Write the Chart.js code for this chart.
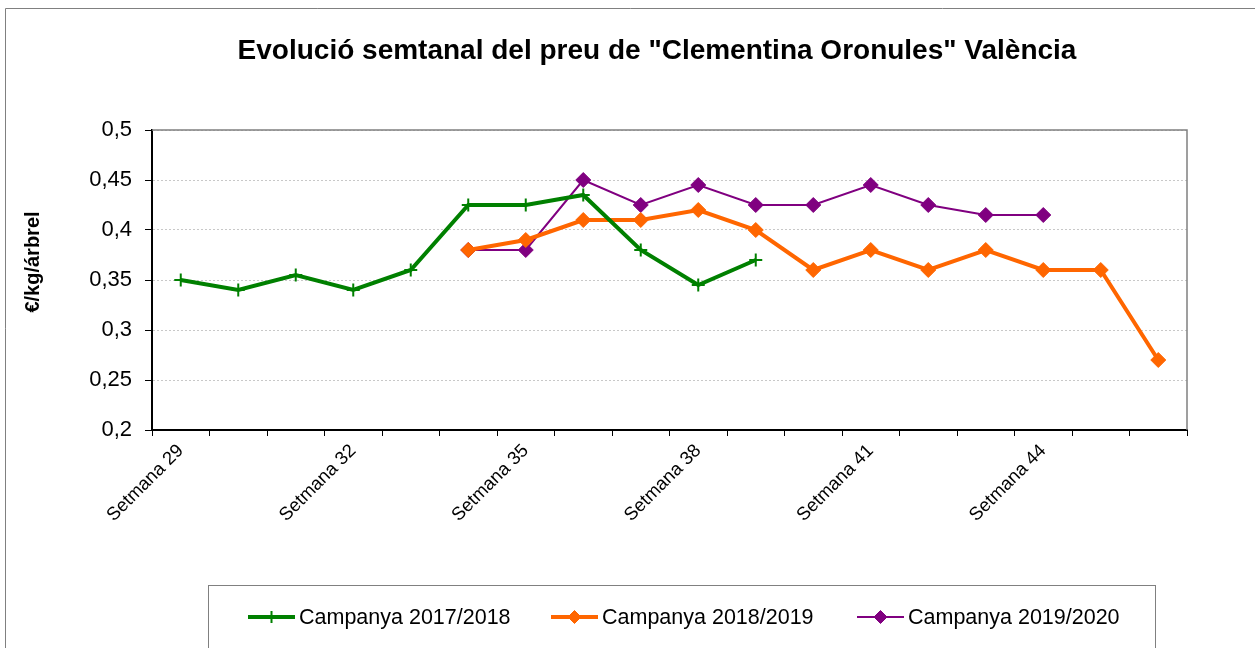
<!DOCTYPE html>
<html>
<head>
<meta charset="utf-8">
<title>Clementina Oronules</title>
<script src="https://cdn.jsdelivr.net/npm/chart.js@4.4.1/dist/chart.umd.min.js"></script>
<style>
  html, body { margin: 0; padding: 0; background: #fff; }
  canvas { display: block; }
</style>
</head>
<body>
<canvas id="priceChart" width="1255" height="648"></canvas>
<script>
const chartTitle = 'Evolució semtanal del preu de "Clementina Oronules" València';
const yAxisTitle = '€/kg/árbrel';

// Setmana 29 ... Setmana 46
const weeks = ['Setmana 29', 'Setmana 30', 'Setmana 31', 'Setmana 32', 'Setmana 33', 'Setmana 34',
  'Setmana 35', 'Setmana 36', 'Setmana 37', 'Setmana 38', 'Setmana 39', 'Setmana 40',
  'Setmana 41', 'Setmana 42', 'Setmana 43', 'Setmana 44', 'Setmana 45', 'Setmana 46'];

const campanya1718 = [0.35, 0.34, 0.355, 0.34, 0.36, 0.425, 0.425, 0.435, 0.38, 0.345, 0.37,
  null, null, null, null, null, null, null];
const campanya1819 = [null, null, null, null, null, 0.38, 0.39, 0.41, 0.41, 0.42, 0.40,
  0.36, 0.38, 0.36, 0.38, 0.36, 0.36, 0.27];
const campanya1920 = [null, null, null, null, null, 0.38, 0.38, 0.45, 0.425, 0.445, 0.425,
  0.425, 0.445, 0.425, 0.415, 0.415, null, null];

const yTicks = [0.2, 0.25, 0.3, 0.35, 0.4, 0.45, 0.5];

const FONT = '"Liberation Sans", Arial, sans-serif';

// title, y title, frames and the boxed legend are drawn by hand
const decorPlugin = {
  id: 'decor',
  beforeDatasetsDraw(chart) {
    const { ctx, chartArea: a } = chart;
    ctx.save();
    ctx.strokeStyle = '#808080';
    ctx.lineWidth = 1.5;
    ctx.beginPath();
    ctx.moveTo(a.left, a.top);
    ctx.lineTo(a.right, a.top);
    ctx.lineTo(a.right, a.bottom);
    ctx.stroke();
    ctx.restore();
  },
  afterDraw(chart) {
    const ctx = chart.ctx;
    ctx.save();
    // outer border
    ctx.strokeStyle = '#808080';
    ctx.lineWidth = 1;
    ctx.beginPath();
    ctx.moveTo(5.5, 648);
    ctx.lineTo(5.5, 8.5);
    ctx.lineTo(1255, 8.5);
    ctx.stroke();

    // title
    ctx.fillStyle = '#000';
    ctx.font = 'bold 28px ' + FONT;
    ctx.textAlign = 'center';
    ctx.textBaseline = 'middle';
    ctx.fillText(chartTitle, 657, 51);

    // y axis title
    ctx.save();
    ctx.translate(33, 262);
    ctx.rotate(-Math.PI / 2);
    ctx.font = 'bold 20px ' + FONT;
    ctx.fillText(yAxisTitle, 0, 0);
    ctx.restore();

    // legend box
    ctx.strokeStyle = '#808080';
    ctx.lineWidth = 1;
    ctx.strokeRect(208.5, 585.5, 947, 100);

    const starts = [248, 551, 857];
    const ly = 617;
    ctx.font = '21.5px ' + FONT;
    ctx.textAlign = 'left';
    chart.data.datasets.forEach((ds, i) => {
      const x0 = starts[i];
      ctx.strokeStyle = ds.borderColor;
      ctx.lineWidth = ds.borderWidth;
      ctx.beginPath();
      ctx.moveTo(x0, ly);
      ctx.lineTo(x0 + 47, ly);
      ctx.stroke();
      ctx.fillStyle = ds.pointBackgroundColor;
      ctx.strokeStyle = ds.pointBorderColor;
      ctx.lineWidth = ds.pointBorderWidth;
      Chart.helpers.drawPoint(ctx, {
        pointStyle: ds.pointStyle,
        radius: ds.pointStyle === 'cross' ? 6 : 6.5,
        borderWidth: ds.pointBorderWidth,
        rotation: 0
      }, x0 + 23.5, ly);
      ctx.fillStyle = '#000';
      ctx.fillText(ds.label, x0 + 51, ly + 1);
    });
    ctx.restore();
  }
};

const ctx = document.getElementById('priceChart').getContext('2d');

const priceChart = new Chart(ctx, {
  type: 'line',
  data: {
    labels: weeks,
    datasets: [{
      label: 'Campanya 2017/2018',
      data: campanya1718,
      borderColor: '#008000',
      backgroundColor: '#008000',
      borderWidth: 4,
      pointStyle: 'cross',
      pointRadius: 6.5,
      pointBorderWidth: 2,
      pointBackgroundColor: '#008000',
      pointBorderColor: '#008000',
      tension: 0
    }, {
      label: 'Campanya 2018/2019',
      data: campanya1819,
      borderColor: '#FF6600',
      backgroundColor: '#FF6600',
      borderWidth: 4,
      pointStyle: 'rectRot',
      pointRadius: 7.5,
      pointBorderWidth: 1,
      pointBackgroundColor: '#FF6600',
      pointBorderColor: '#FF6600',
      tension: 0
    }, {
      label: 'Campanya 2019/2020',
      data: campanya1920,
      borderColor: '#800080',
      backgroundColor: '#800080',
      borderWidth: 2,
      pointStyle: 'rectRot',
      pointRadius: 7.5,
      pointBorderWidth: 1,
      pointBackgroundColor: '#800080',
      pointBorderColor: '#800080',
      tension: 0
    }]
  },
  options: {
    responsive: false,
    animation: false,
    layout: { padding: { left: 5, right: 68, top: 130, bottom: 0 } },
    plugins: {
      legend: { display: false },
      title: { display: false },
      tooltip: { enabled: false }
    },
    scales: {
      x: {
        offset: true,
        afterFit(scale) { scale.height = 218; },
        grid: {
          offset: true,
          drawOnChartArea: false,
          drawTicks: true,
          tickLength: 6,
          color: '#000'
        },
        border: { color: '#000', width: 2 },
        ticks: {
          autoSkip: false,
          minRotation: 45,
          maxRotation: 45,
          padding: 4,
          color: '#000',
          font: { family: FONT, size: 18.5 },
          callback(value, index) {
            return index % 3 === 0 ? weeks[index] : '';
          }
        }
      },
      y: {
        min: 0.2,
        max: 0.5,
        afterFit(scale) { scale.width = 147; },
        afterBuildTicks(scale) {
          scale.ticks = yTicks.map(v => ({ value: v }));
        },
        grid: {
          color: '#c8c8c8',
          tickColor: '#000',
          tickLength: 7,
          lineWidth: 1
        },
        border: { color: '#000', width: 2, dash: [2, 2] },
        ticks: {
          padding: 13,
          color: '#000',
          font: { family: FONT, size: 22 },
          callback(value) {
            return String(Math.round(value * 100) / 100).replace('.', ',');
          }
        },
        title: { display: false }
      }
    }
  },
  plugins: [decorPlugin]
});
</script>
</body>
</html>
